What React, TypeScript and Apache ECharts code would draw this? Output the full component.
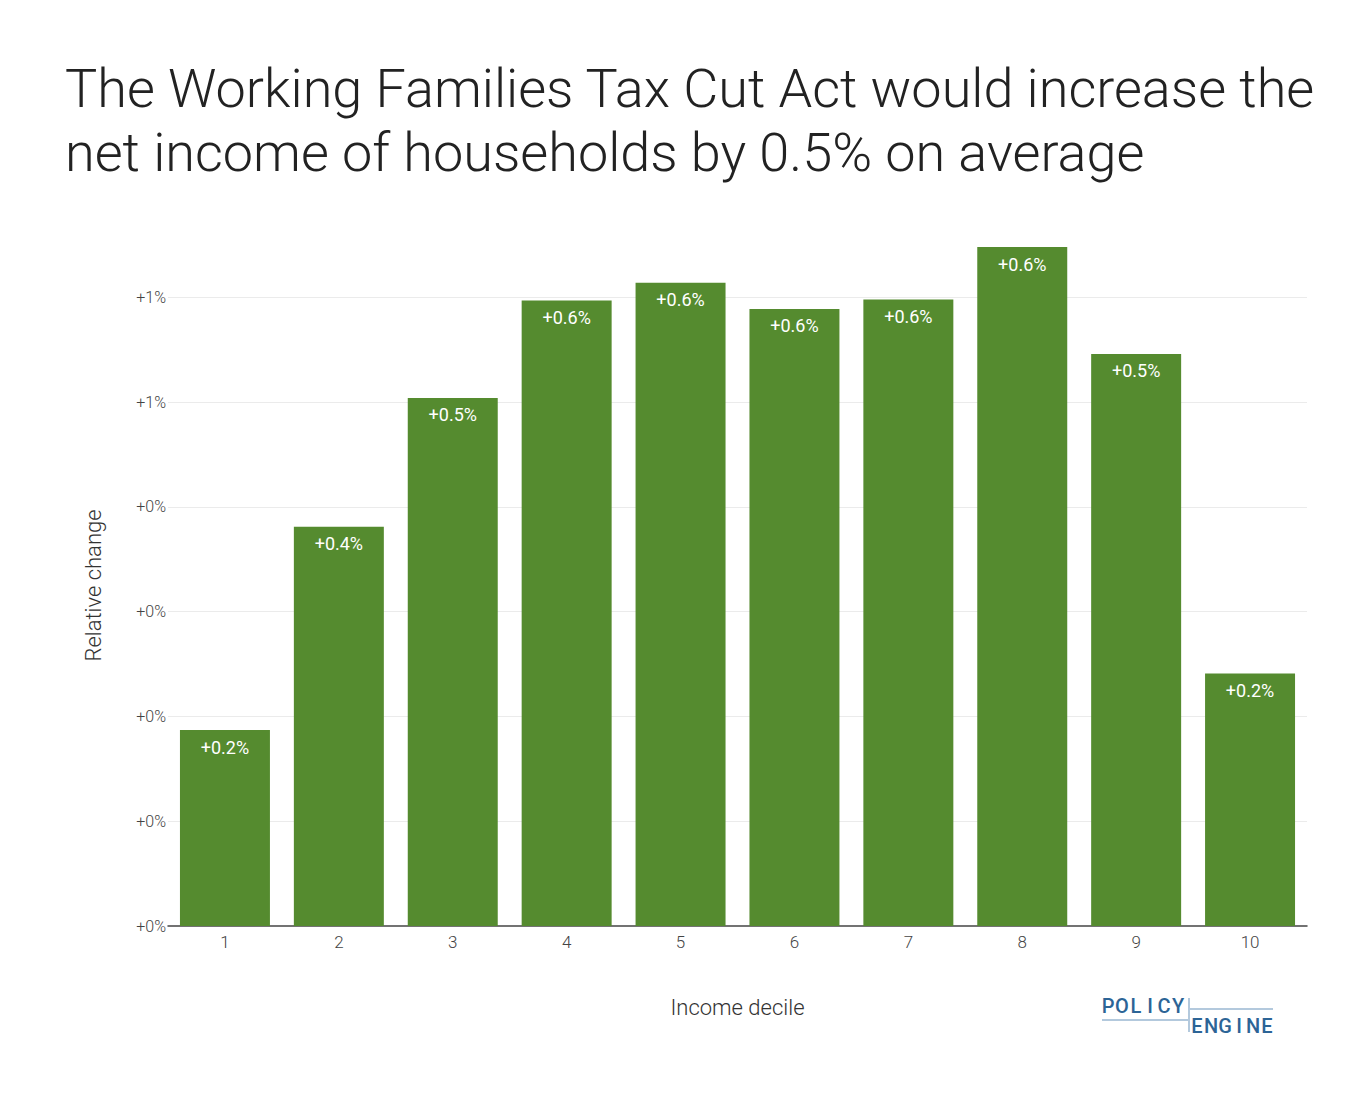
import React, { useEffect, useRef } from "react";
import * as echarts from "echarts";

const deciles = ["1", "2", "3", "4", "5", "6", "7", "8", "9", "10"];
// relative change in net income, percent
const relativeChange = [0.187, 0.381, 0.504, 0.597, 0.614, 0.589, 0.598, 0.648, 0.546, 0.241];
const gridValues = [0.1, 0.2, 0.3, 0.4, 0.5, 0.6];

const FONT = "Roboto, sans-serif";

// spaced-out logo letters
const logoWord = (word: string, x0: number, y: number) =>
  word.split("").map((ch, i) => ({
    type: "text",
    x: x0 + 7 + i * 14,
    y,
    style: { text: ch, font: "500 20px " + FONT, fill: "#2C6496", align: "center", verticalAlign: "top" },
  }));

export default function App() {
  const chartRef = useRef<HTMLDivElement>(null);

  useEffect(() => {
    if (!chartRef.current) return;
    const chart = echarts.init(chartRef.current, null, { renderer: "svg" });

    chart.setOption({
      animation: false,
      backgroundColor: "#fff",
      textStyle: { fontFamily: FONT },
      title: {
        text: "The Working Families Tax Cut Act would increase the\nnet income of households by 0.5% on average",
        left: 52,
        top: 43,
        textStyle: { fontFamily: FONT, fontSize: 54, fontWeight: 300, color: "#222", lineHeight: 64 },
      },
      grid: { left: 160, right: 51, top: 237, bottom: 170 },
      xAxis: {
        type: "category",
        data: deciles,
        axisLine: { lineStyle: { color: "#444", width: 1.5 } },
        axisTick: { show: false },
        axisLabel: { color: "#444", fontSize: 17, fontWeight: 300, margin: 7 },
        name: "Income decile",
        nameLocation: "middle",
        nameGap: 70,
        nameTextStyle: { color: "#333", fontSize: 22, fontWeight: 300 },
      },
      yAxis: {
        type: "value",
        min: 0,
        max: 0.65,
        interval: 0.1,
        axisLine: { show: false },
        splitLine: { show: false },
        axisLabel: {
          color: "#444",
          fontSize: 16,
          fontWeight: 300,
          margin: 2,
          formatter: (v: number) => (v > 0.61 ? "" : "+" + Math.round(v).toFixed(0) + "%"),
        },
        name: "Relative change",
        nameLocation: "middle",
        nameGap: 64,
        nameTextStyle: { color: "#333", fontSize: 22, fontWeight: 300 },
      },
      series: [
        {
          type: "bar",
          data: relativeChange,
          barCategoryGap: "21%",
          itemStyle: { color: "#558B2F" },
          label: {
            show: true,
            position: "insideTop",
            distance: 8,
            color: "#fff",
            fontSize: 18,
            formatter: (p: any) => "+" + p.value.toFixed(1) + "%",
          },
          markLine: {
            silent: true,
            symbol: "none",
            label: { show: false },
            lineStyle: { color: "#ebebeb", type: "solid", width: 1 },
            z: 0,
            data: gridValues.map((v) => ({ yAxis: v })),
          },
          z: 2,
        },
      ],
      graphic: [
        ...logoWord("POLICY", 1093, 988),
        ...logoWord("ENGINE", 1182, 1008),
        { type: "line", shape: { x1: 1181, y1: 990, x2: 1181, y2: 1024 }, style: { stroke: "#B3C9DD", lineWidth: 2 } },
        { type: "line", shape: { x1: 1181, y1: 1001, x2: 1265, y2: 1001 }, style: { stroke: "#B3C9DD", lineWidth: 2 } },
        { type: "line", shape: { x1: 1094, y1: 1012, x2: 1181, y2: 1012 }, style: { stroke: "#B3C9DD", lineWidth: 2 } },
      ],
    });

    return () => chart.dispose();
  }, []);

  return <div ref={chartRef} style={{ width: 1350, height: 1088 }} />;
}
